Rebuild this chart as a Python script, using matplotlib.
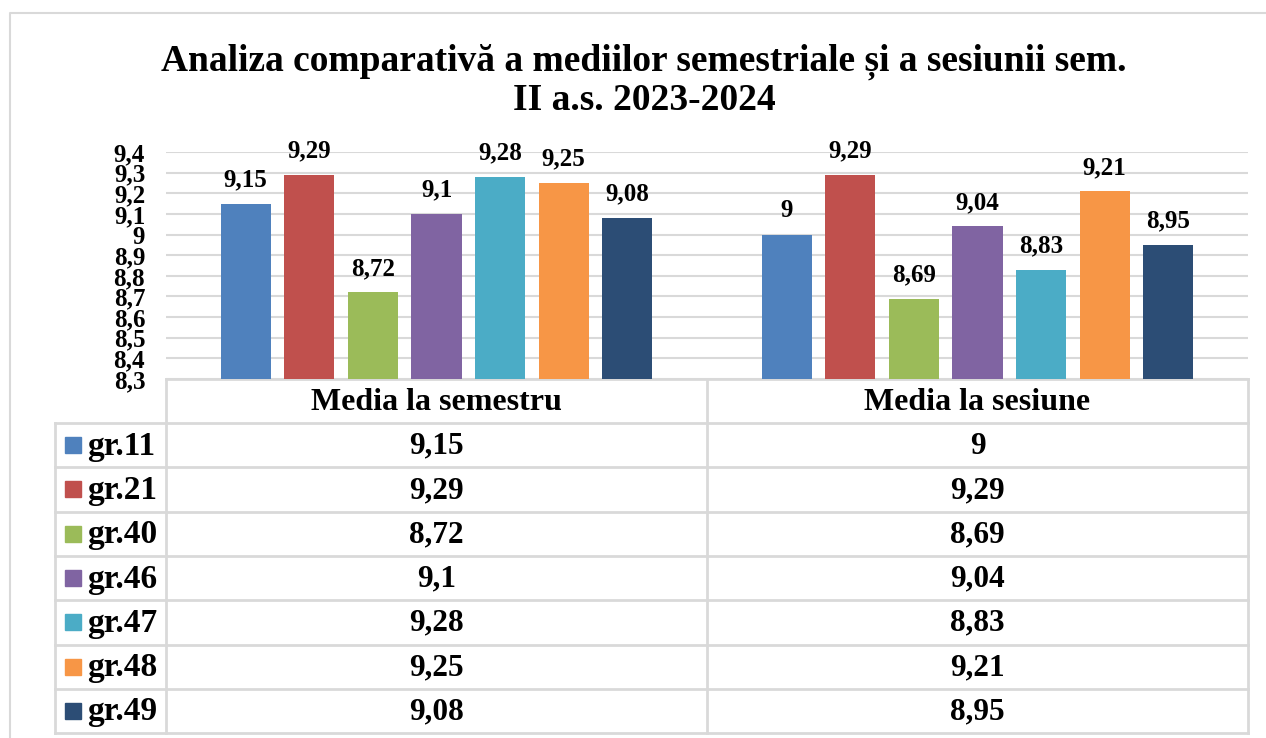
import numpy as np
import matplotlib.pyplot as plt

categories = ["Media la semestru", "Media la sesiune"]
groups = ["gr.11", "gr.21", "gr.40", "gr.46", "gr.47", "gr.48", "gr.49"]
semestru = [9.15, 9.29, 8.72, 9.10, 9.28, 9.25, 9.08]
sesiune = [9.00, 9.29, 8.69, 9.04, 8.83, 9.21, 8.95]
colors = ["#4F81BD", "#C0504D", "#9BBB59", "#8064A2", "#4BACC6", "#F79646", "#2C4D75"]
yticks = [8.3, 8.4, 8.5, 8.6, 8.7, 8.8, 8.9, 9.0, 9.1, 9.2, 9.3, 9.4]

W, H = 1266, 738
serif = ["Liberation Serif", "DejaVu Serif"]
plt.rcParams["font.family"] = serif
plt.rcParams["font.weight"] = "bold"


def fmt(v):
    s = ("%.2f" % v).rstrip("0").rstrip(".")
    return s.replace(".", ",")


fig = plt.figure(figsize=(W / 100, H / 100), dpi=100)

# pixel-space overlay for frame, title and data table
bg = fig.add_axes([0, 0, 1, 1])
bg.set_xlim(0, W)
bg.set_ylim(H, 0)
bg.axis("off")
grid_c = "#D9D9D9"
bg.plot([10, 10, W], [H, 13, 13], color=grid_c, lw=1.5)

bg.text(644, 62, "Analiza comparativă a mediilor semestriale și a sesiunii sem.",
        ha="center", va="center", fontsize=27, fontweight="bold")
bg.text(644, 100, "II a.s. 2023-2024", ha="center", va="center",
        fontsize=27, fontweight="bold")

# chart
x0, x1, ytop, ybot = 166, 1248, 152, 379
ax = fig.add_axes([x0 / W, 1 - ybot / H, (x1 - x0) / W, (ybot - ytop) / H])
n = len(groups)
step = 0.1176
width = 0.0926
xc = np.arange(len(categories))
for i, g in enumerate(groups):
    vals = [semestru[i], sesiune[i]]
    xs = xc + (i - (n - 1) / 2) * step
    ax.bar(xs, vals, width=width, color=colors[i], zorder=3)
    for xx, v in zip(xs, vals):
        ax.text(xx, v + 0.06, fmt(v), ha="center", va="bottom",
                fontsize=18, fontweight="bold")
ax.set_xlim(-0.5, 1.5)
ax.set_ylim(8.3, 9.4)
ax.set_yticks(yticks)
ax.set_yticklabels([fmt(t) for t in yticks], fontsize=18, fontweight="bold")
ax.tick_params(axis="y", length=0, pad=15)
ax.set_xticks([])
ax.grid(axis="y", color=grid_c, lw=1.5, zorder=0)
for s in ax.spines.values():
    s.set_visible(False)

# data table
lx = 55
row_h = 44.3
head_bot = 423
tb_bot = head_bot + row_h * n
lc = dict(color=grid_c, lw=2)
bg.plot([x0, x1], [ybot, ybot], **lc)
for k in range(n + 1):
    y = head_bot + k * row_h
    bg.plot([lx, x1], [y, y], **lc)
mid = (x0 + x1) / 2
bg.plot([x0, x0], [ybot, tb_bot], **lc)
bg.plot([mid, mid], [ybot, tb_bot], **lc)
bg.plot([x1, x1], [ybot, tb_bot], **lc)
bg.plot([lx, lx], [head_bot, tb_bot], **lc)

col_c = [(x0 + mid) / 2, (mid + x1) / 2]
for j, c in enumerate(categories):
    bg.text(col_c[j], (ybot + head_bot) / 2 + 2, c, ha="center", va="center",
            fontsize=23, fontweight="bold")
for i, g in enumerate(groups):
    yc = head_bot + (i + 0.5) * row_h
    bg.add_patch(plt.Rectangle((65, yc - 8), 16, 16, color=colors[i]))
    bg.text(87, yc + 1, g, ha="left", va="center", fontsize=24, fontweight="bold")
    for j, vals in enumerate([semestru, sesiune]):
        bg.text(col_c[j], yc + 1, fmt(vals[i]), ha="center", va="center",
                fontsize=22.5, fontweight="bold")

fig.savefig("out.png", dpi=100)
